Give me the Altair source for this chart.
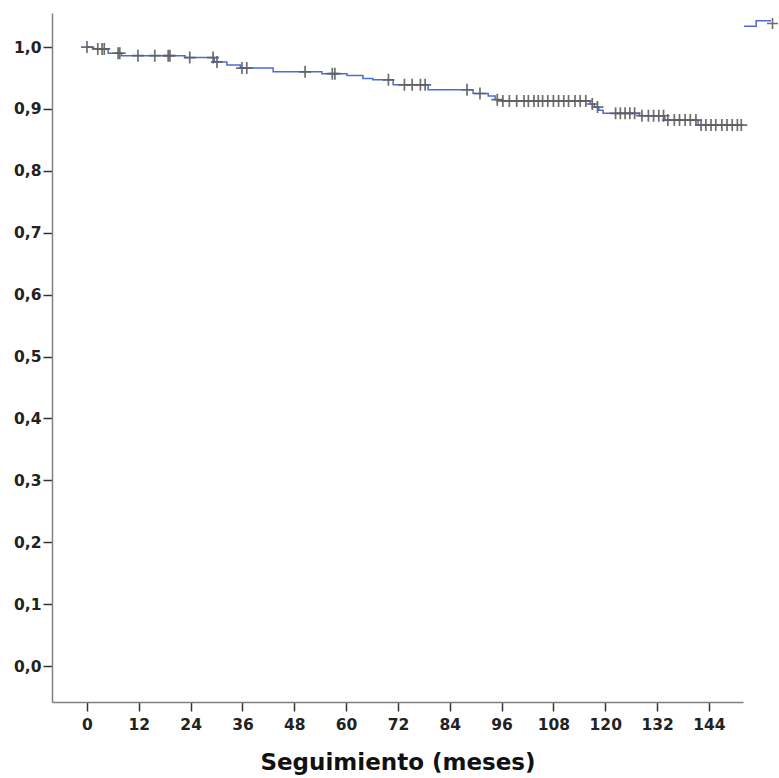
import altair as alt
import pandas as pd

# Kaplan-Meier step function (time in months, survival after the step)
event_times = [0, 1.5, 4.9, 8.0, 22.7, 29.5, 32.4, 35.5, 43.1, 54.4, 60.2, 63.9,
               66.2, 70.9, 79.0, 89.4, 92.9, 94.5, 96.0, 116.5, 117.5, 118.5,
               119.5, 127.9, 133.8, 141.5, 151.5]
survival = [1.0, 0.997, 0.990, 0.986, 0.983, 0.976, 0.971, 0.966, 0.960, 0.957,
            0.954, 0.949, 0.947, 0.939, 0.931, 0.925, 0.921, 0.915, 0.913, 0.908,
            0.903, 0.898, 0.893, 0.889, 0.882, 0.874, 0.874]

# censored observations (months)
censor_times = [0, 2.5, 3.5, 4.0, 7.2, 7.6, 11.8, 15.7, 18.8, 19.2, 23.8, 29.2,
                30.1, 35.9, 37.0, 50.5, 56.8, 57.4, 69.8, 73.5, 75.3, 77.2, 78.3,
                88.0, 91.0, 95.0, 96.3, 97.8, 99.5, 101.2, 102.2, 103.5, 104.5,
                105.5, 106.7, 108.0, 109.2, 110.4, 111.5, 113.0, 114.2, 115.5,
                117.0, 118.2, 122.4, 123.5, 124.6, 125.7, 126.8, 128.5, 130.0,
                131.2, 132.4, 133.5, 134.5, 136.0, 137.2, 138.5, 139.7, 141.0,
                142.2, 143.3, 144.5, 145.6, 147.0, 148.2, 149.4, 150.6, 151.5]

x_ticks = [0, 12, 24, 36, 48, 60, 72, 84, 96, 108, 120, 132, 144]
y_ticks = [0.0, 0.1, 0.2, 0.3, 0.4, 0.5, 0.6, 0.7, 0.8, 0.9, 1.0]

curve = pd.DataFrame({"t": event_times, "s": survival,
                      "serie": "Función de supervivencia"})
cens = pd.DataFrame({"t": censor_times}).sort_values("t")
cens = pd.merge_asof(cens, curve[["t", "s"]].sort_values("t"), on="t")
cens["serie"] = "Censurado"

FONT = "DejaVu Sans"
xscale = alt.Scale(domain=[-8.1, 151.9], nice=False, zero=False)
yscale = alt.Scale(domain=[-0.058, 1.055], nice=False, zero=False)

xaxis = alt.Axis(values=x_ticks, title="Seguimiento (meses)", grid=False,
                 labelFont=FONT, labelFontSize=15.5, labelFontWeight="bold",
                 labelColor="#222222", labelPadding=6,
                 titleFont=FONT, titleFontSize=23, titleFontWeight="bold",
                 titleColor="#111111", titlePadding=19,
                 tickSize=9, tickColor="#333333", tickWidth=1.5,
                 domainColor="#808080", domainWidth=1.5)
yaxis = alt.Axis(values=y_ticks, title=None, grid=False,
                 labelExpr="replace(format(datum.value, '.1f'), '.', ',')",
                 labelFont=FONT, labelFontSize=15.5, labelFontWeight="bold",
                 labelColor="#222222", labelPadding=2,
                 tickSize=9, tickColor="#333333", tickWidth=1.5,
                 domainColor="#808080", domainWidth=1.5)

line = alt.Chart(curve).mark_line(interpolate="step-after", strokeWidth=1.5).encode(
    x=alt.X("t:Q", scale=xscale, axis=xaxis),
    y=alt.Y("s:Q", scale=yscale, axis=yaxis),
    color=alt.Color("serie:N", scale=alt.Scale(range=["#4f6bd3"]),
                    legend=alt.Legend(orient="none", legendX=691, legendY=-4,
                                      title=None, labelExpr="''", padding=0,
                                      symbolType="M-1,0.2H-0.1V-0.2H1",
                                      symbolSize=729, symbolStrokeWidth=1.5,
                                      symbolStrokeColor="#4f6bd3"))
)

points = alt.Chart(cens).mark_point(filled=False, size=144, strokeWidth=1.7,
                                    color="#5f5f5f", opacity=0.9).encode(
    x="t:Q",
    y="s:Q",
    shape=alt.Shape("serie:N", scale=alt.Scale(range=["M-1,0H1M0,-1V1"]),
                    legend=alt.Legend(orient="none", legendX=714, legendY=4,
                                      title=None, labelExpr="''", padding=0,
                                      symbolSize=121, symbolStrokeWidth=1.6,
                                      symbolStrokeColor="#5f5f5f"))
)

chart = (line + points).properties(
    width=691, height=689,
    padding={"left": 52, "top": 13, "right": 36, "bottom": 76},
    autosize=alt.AutoSizeParams(type="none"),
).configure_view(strokeOpacity=0).resolve_legend(color="independent", shape="independent")

chart.save("out.html", embed_options={"renderer": "svg", "actions": False})
